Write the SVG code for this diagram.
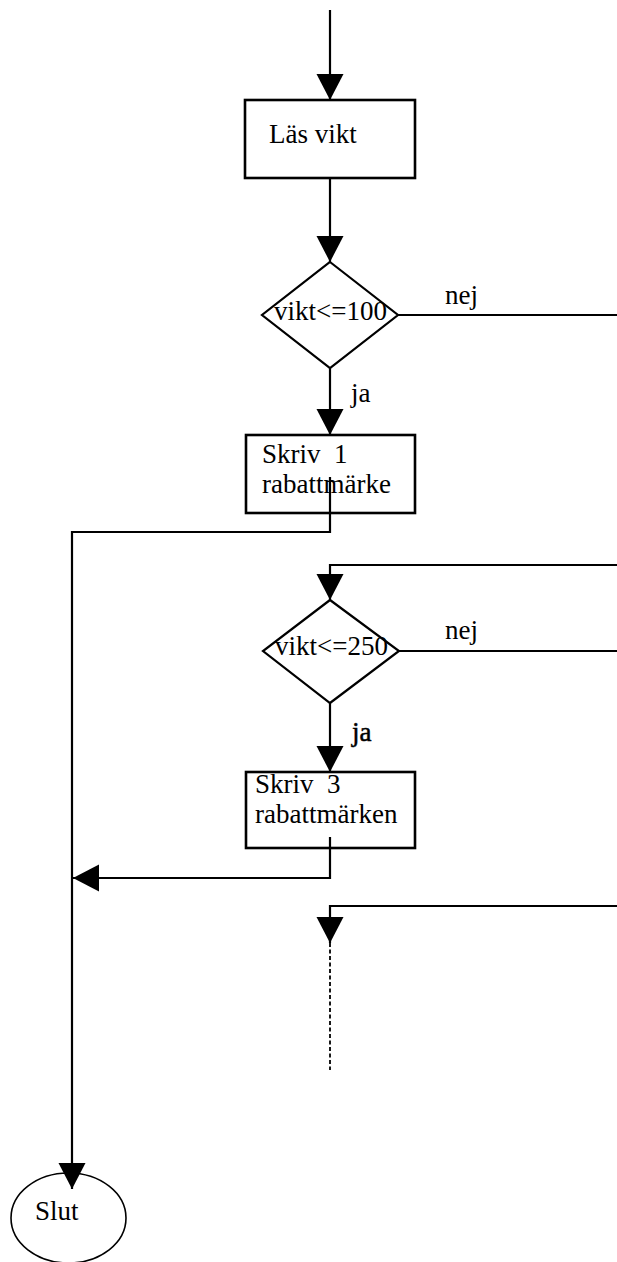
<svg xmlns="http://www.w3.org/2000/svg" width="617" height="1262" viewBox="0 0 617 1262">
<style>
  .box { fill: #fff; stroke: #000; stroke-width: 2.6; }
  .dia { fill: #fff; stroke: #000; stroke-width: 2.2; }
  .term { fill: #fff; stroke: #000; stroke-width: 1.6; }
  .t { font-family: "Liberation Serif", "Times New Roman", serif; font-size: 27px; fill: #000; white-space: pre; }
  .c { fill: none; stroke: #000; stroke-width: 2.2; }
  .dash { fill: none; stroke: #000; stroke-width: 1.8; stroke-dasharray: 4 2.5; }
</style>
<defs>
  <marker id="ah" markerUnits="userSpaceOnUse" markerWidth="27" markerHeight="28" refX="26" refY="13.5" orient="auto" viewBox="0 0 27 28">
    <path d="M0,0 L26,13.5 L0,27 z" fill="#000"/>
  </marker>
</defs>

<g id="las-vikt">
  <rect class="box" x="245" y="100" width="170" height="78"/>
  <text class="t" x="269" y="143">Läs vikt</text>
</g>

<g id="vikt100">
  <polygon class="dia" points="330,262 398,315 330,368 262,315"/>
  <text class="t" x="274" y="320">vikt&lt;=100</text>
</g>
<g id="label-nej1"><text class="t" x="445" y="304">nej</text></g>
<g id="label-ja1"><text class="t" x="351" y="402">ja</text></g>

<g id="skriv1">
  <rect class="box" x="246" y="435" width="169" height="78"/>
  <text class="t" x="262" y="463">Skriv  1</text>
  <text class="t" x="262" y="493">rabattmärke</text>
</g>

<g id="vikt250">
  <polygon class="dia" points="330,600 399,651 330,703 263,651"/>
  <text class="t" x="275" y="655">vikt&lt;=250</text>
</g>
<g id="label-nej2"><text class="t" x="445" y="639">nej</text></g>
<g id="label-ja2"><text class="t" x="352" y="741" stroke="#000" stroke-width="0.5">ja</text></g>

<g id="skriv3">
  <rect class="box" x="246" y="772" width="169" height="76"/>
  <text class="t" x="255" y="793">Skriv  3</text>
  <text class="t" x="255" y="823">rabattmärken</text>
</g>

<g id="slut">
  <ellipse class="term" cx="68.5" cy="1218" rx="57.5" ry="45"/>
  <text class="t" x="35" y="1220">Slut</text>
</g>

<g id="connectors">
  <path class="c" d="M330,10 V100" marker-end="url(#ah)"/>
  <path class="c" d="M330,178 V262" marker-end="url(#ah)"/>
  <path class="c" d="M398,315 H617"/>
  <path class="c" d="M330,368 V435" marker-end="url(#ah)"/>
  <path class="c" d="M330,477 V532 H72 V1189" marker-end="url(#ah)"/>
  <path class="c" d="M617,565 H330 V600" marker-end="url(#ah)"/>
  <path class="c" d="M399,651 H617"/>
  <path class="c" d="M330,703 V772" marker-end="url(#ah)"/>
  <path class="c" d="M330,837 V878 H73" marker-end="url(#ah)"/>
  <path class="c" d="M617,906 H330 V943" marker-end="url(#ah)"/>
  <path class="dash" d="M330,943 V1070"/>
</g>
</svg>
